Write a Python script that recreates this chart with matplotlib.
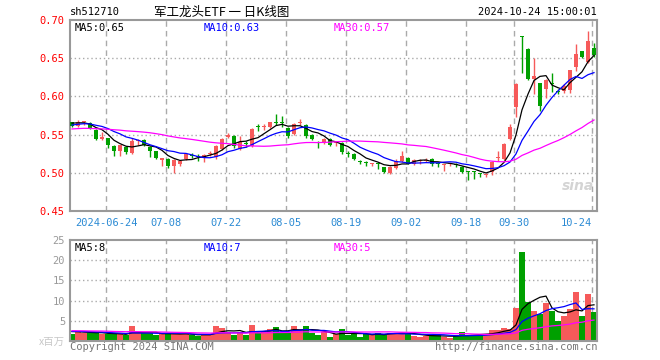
import numpy as np
import pandas as pd
import matplotlib
matplotlib.use('Agg')
import matplotlib.pyplot as plt

# trading days shown (06-14 .. 10-24), skipping the mid-autumn / national day holidays
holidays = ['2024-09-16', '2024-09-17', '2024-10-01', '2024-10-02',
            '2024-10-03', '2024-10-04', '2024-10-07']
dates = [d.strftime('%Y-%m-%d') for d in pd.bdate_range('2024-06-14', '2024-10-24')
         if d.strftime('%Y-%m-%d') not in holidays]

tick_dates = ['2024-06-24', '2024-07-08', '2024-07-22', '2024-08-05', '2024-08-19',
              '2024-09-02', '2024-09-18', '2024-09-30', '2024-10-24']
tick_labels = ['2024-06-24', '07-08', '07-22', '08-05', '08-19',
               '09-02', '09-18', '09-30', '10-24']

# daily prices
opn = [0.566, 0.561, 0.566, 0.565, 0.556, 0.544, 0.545, 0.535, 0.528, 0.534,
       0.526, 0.541, 0.543, 0.534, 0.528, 0.517, 0.518, 0.509, 0.511, 0.518,
       0.523, 0.522, 0.519, 0.525, 0.521, 0.531, 0.547, 0.548, 0.531, 0.539,
       0.535, 0.561, 0.560, 0.560, 0.566, 0.566, 0.559, 0.551, 0.565, 0.563,
       0.550, 0.540, 0.540, 0.544, 0.539, 0.539, 0.526, 0.525, 0.515, 0.514,
       0.512, 0.513, 0.507, 0.500, 0.506, 0.515, 0.520, 0.511, 0.515, 0.516,
       0.518, 0.512, 0.510, 0.511, 0.512, 0.508, 0.502, 0.502, 0.499, 0.497,
       0.501, 0.519, 0.518, 0.544, 0.586, 0.679, 0.662, 0.623, 0.617, 0.610,
       0.617, 0.607, 0.607, 0.608, 0.638, 0.659, 0.645, 0.663]
close = [0.561, 0.566, 0.567, 0.558, 0.544, 0.547, 0.536, 0.528, 0.536, 0.527,
         0.542, 0.543, 0.536, 0.528, 0.520, 0.520, 0.509, 0.517, 0.515, 0.524,
         0.522, 0.521, 0.523, 0.526, 0.535, 0.544, 0.550, 0.535, 0.540, 0.538,
         0.557, 0.560, 0.561, 0.566, 0.565, 0.565, 0.548, 0.564, 0.566, 0.548,
         0.544, 0.539, 0.544, 0.536, 0.540, 0.527, 0.525, 0.518, 0.514, 0.513,
         0.513, 0.512, 0.501, 0.508, 0.515, 0.522, 0.512, 0.517, 0.516, 0.517,
         0.511, 0.511, 0.511, 0.512, 0.510, 0.501, 0.501, 0.501, 0.498, 0.498,
         0.514, 0.520, 0.538, 0.560, 0.616, 0.678, 0.623, 0.627, 0.587, 0.621,
         0.616, 0.606, 0.613, 0.634, 0.656, 0.652, 0.672, 0.654]
high = [0.567, 0.569, 0.568, 0.566, 0.557, 0.554, 0.546, 0.536, 0.537, 0.535,
        0.545, 0.544, 0.544, 0.535, 0.529, 0.520, 0.519, 0.518, 0.516, 0.525,
        0.526, 0.524, 0.524, 0.528, 0.536, 0.545, 0.552, 0.549, 0.548, 0.541,
        0.558, 0.564, 0.564, 0.567, 0.577, 0.575, 0.560, 0.565, 0.570, 0.564,
        0.551, 0.541, 0.545, 0.545, 0.542, 0.540, 0.528, 0.526, 0.517, 0.516,
        0.513, 0.514, 0.508, 0.509, 0.518, 0.528, 0.521, 0.518, 0.518, 0.520,
        0.519, 0.514, 0.512, 0.513, 0.513, 0.509, 0.503, 0.503, 0.500, 0.500,
        0.515, 0.528, 0.539, 0.564, 0.617, 0.679, 0.663, 0.650, 0.618, 0.623,
        0.630, 0.610, 0.616, 0.635, 0.669, 0.660, 0.686, 0.670]
low = [0.560, 0.560, 0.562, 0.557, 0.543, 0.543, 0.533, 0.522, 0.522, 0.525,
       0.524, 0.537, 0.535, 0.521, 0.518, 0.509, 0.506, 0.500, 0.509, 0.517,
       0.519, 0.516, 0.514, 0.522, 0.518, 0.530, 0.545, 0.533, 0.530, 0.534,
       0.534, 0.555, 0.556, 0.559, 0.562, 0.560, 0.546, 0.550, 0.563, 0.546,
       0.543, 0.533, 0.538, 0.535, 0.535, 0.525, 0.521, 0.517, 0.511, 0.509,
       0.509, 0.505, 0.500, 0.499, 0.505, 0.514, 0.511, 0.510, 0.512, 0.514,
       0.509, 0.507, 0.502, 0.509, 0.507, 0.500, 0.491, 0.492, 0.494, 0.495,
       0.497, 0.516, 0.517, 0.543, 0.573, 0.630, 0.621, 0.603, 0.581, 0.598,
       0.606, 0.603, 0.604, 0.604, 0.633, 0.650, 0.644, 0.651]
# volume, millions of shares
volume = [1.8, 2.5, 2.0, 2.0, 2.0, 1.8, 1.7, 1.7, 1.7, 1.4,
          3.6, 1.9, 1.9, 1.9, 1.5, 1.9, 1.9, 1.7, 1.7, 1.7,
          1.4, 1.2, 1.7, 1.7, 3.75, 3.3, 2.2, 1.5, 2.2, 1.5,
          4.0, 1.9, 2.2, 2.9, 3.5, 2.0, 2.0, 3.75, 2.6, 3.75,
          2.0, 1.5, 2.2, 1.1, 1.7, 2.9, 1.5, 2.1, 1.0, 1.7,
          1.5, 2.1, 1.5, 2.1, 2.1, 2.1, 1.7, 1.2, 1.0, 1.2,
          1.5, 1.5, 1.0, 0.8, 1.2, 2.25, 1.5, 1.5, 1.5, 1.7,
          2.75, 2.75, 3.3, 2.9, 8.1, 22.1, 9.75, 7.5, 6.7, 9.5,
          7.5, 5.0, 6.1, 7.9, 12.1, 6.1, 11.6, 7.1]

# days before the window, estimated from where the MA lines start
pre_close = [0.552, 0.556, 0.560, 0.558, 0.553, 0.550, 0.548, 0.551, 0.554, 0.557,
             0.559, 0.556, 0.553, 0.555, 0.558, 0.560, 0.557, 0.554, 0.552, 0.553,
             0.556, 0.559, 0.562, 0.561, 0.562, 0.564, 0.567, 0.566, 0.567]
pre_volume = [2.9, 2.6, 3.1, 2.4, 2.2, 2.8, 3.4, 2.7, 2.5, 2.3,
              2.6, 2.9, 2.4, 2.2, 2.5, 3.0, 2.7, 2.4, 2.6, 2.8,
              2.5, 2.3, 2.6, 2.4, 2.2, 2.7, 2.5, 2.3, 2.4]

RED = '#f65a5a'
GREEN = '#00a000'
GRID = '#aaaaaa'
MONO = 'DejaVu Sans Mono'

n = len(dates)
x = np.arange(n)
o = np.array(opn); c = np.array(close); h = np.array(high); l = np.array(low)
v = np.array(volume)
up = c >= o
cols = [RED if u else GREEN for u in up]

def ma(pre, vals, k):
    s = pd.Series(list(pre) + list(vals))
    return s.rolling(k).mean().values[len(pre):]

ma_cols = {5: 'black', 10: '#0000ff', 30: '#ff00ff'}

fig = plt.figure(figsize=(6.6, 3.6), dpi=100)
W, H = 660.0, 360.0
ax = fig.add_axes([70 / W, 1 - 211 / H, 527 / W, 191 / H])
axv = fig.add_axes([70 / W, 1 - 341 / H, 527 / W, 101 / H])

tick_pos = [dates.index(d) - 0.3 for d in tick_dates]

for a in (ax, axv):
    a.set_xlim(-0.33, n - 0.5)
    for s in a.spines.values():
        s.set_color('#999999')
        s.set_linewidth(1.5)
    for p in tick_pos:
        a.axvline(p, color=GRID, lw=1, ls=(0, (4, 3)), zorder=0)
    a.tick_params(length=0)

# candles
body = np.maximum(np.abs(c - o), 0.0013)
ax.vlines(x, l, h, colors=cols, lw=1, zorder=2)
ax.bar(x, body, bottom=np.minimum(o, c), width=0.75, color=cols, zorder=3)

for k, col in ma_cols.items():
    ax.plot(x, ma(pre_close, close, k), color=col, lw=0.9, zorder=4)

ax.set_ylim(0.45, 0.70)
for yv in [0.50, 0.55, 0.60, 0.65]:
    ax.axhline(yv, color=GRID, lw=1, ls=(0, (1, 2)), zorder=0)
ax.set_yticks([0.45, 0.50, 0.55, 0.60, 0.65, 0.70])
ax.set_yticklabels(['%.2f' % t for t in [0.45, 0.50, 0.55, 0.60, 0.65, 0.70]],
                   color='red', fontsize=7.5, family=MONO)
ax.set_xticks(tick_pos)
xl = ax.set_xticklabels(tick_labels, color='#2a8ad4', fontsize=7.5, family=MONO)
xl[-1].set_ha('right')
ax.tick_params(axis='x', pad=5)
ax.tick_params(axis='y', pad=4)

lab_x = [75, 204, 334]
for (k, col), lx in zip(ma_cols.items(), lab_x):
    ax.text((lx - 70) / 527, 0.985, 'MA%d:%.2f' % (k, ma(pre_close, close, k)[-1]),
            transform=ax.transAxes, color=col, fontsize=7.5, family=MONO, va='top')

# volume
axv.bar(x, v, width=0.85, color=cols, zorder=2)
for k, col in ma_cols.items():
    axv.plot(x, ma(pre_volume, volume, k), color=col, lw=0.9, zorder=4)
axv.set_ylim(0, 25)
for yv in [5, 10, 15, 20]:
    axv.axhline(yv, color=GRID, lw=1, ls=(0, (1, 2)), zorder=0)
axv.set_yticks([5, 10, 15, 20, 25])
axv.set_yticklabels(['5', '10', '15', '20', '25'], color='#999999', fontsize=7.5, family=MONO)
axv.set_xticks([])
for (k, col), lx in zip(ma_cols.items(), lab_x):
    axv.text((lx - 70) / 527, 0.97, 'MA%d:%d' % (k, int(ma(pre_volume, volume, k)[-1])),
             transform=axv.transAxes, color=col, fontsize=7.5, family=MONO, va='top')

# header and footer texts
fig.text(70 / W, 1 - 12 / H, 'sh512710', fontsize=7.5, family=MONO, va='center')
fig.text(222 / W, 1 - 12 / H, '军工龙头ETF 一 日K线图', fontsize=9,
         family=['Noto Sans CJK SC', 'DejaVu Sans'], va='center', ha='center')
fig.text(597 / W, 1 - 12 / H, '2024-10-24 15:00:01', fontsize=7.5, family=MONO,
         va='center', ha='right')
fig.text(70 / W, 1 - 347 / H, 'Copyright 2024 SINA.COM', fontsize=7.5, family=MONO,
         va='center', color='#777777')
fig.text(597 / W, 1 - 347 / H, 'http://finance.sina.com.cn', fontsize=7.5, family=MONO,
         va='center', ha='right', color='#777777')
fig.text(65 / W, 1 - 342 / H, 'x百万', fontsize=7.5, family=['Noto Sans CJK SC', 'DejaVu Sans'],
         va='center', ha='right', color='#c8c8c8')
fig.text(578 / W, 1 - 186 / H, 'sina', fontsize=10, style='italic', weight='bold',
         va='center', ha='center', color='#d4d4d4')

fig.savefig('out.png', dpi=100)
